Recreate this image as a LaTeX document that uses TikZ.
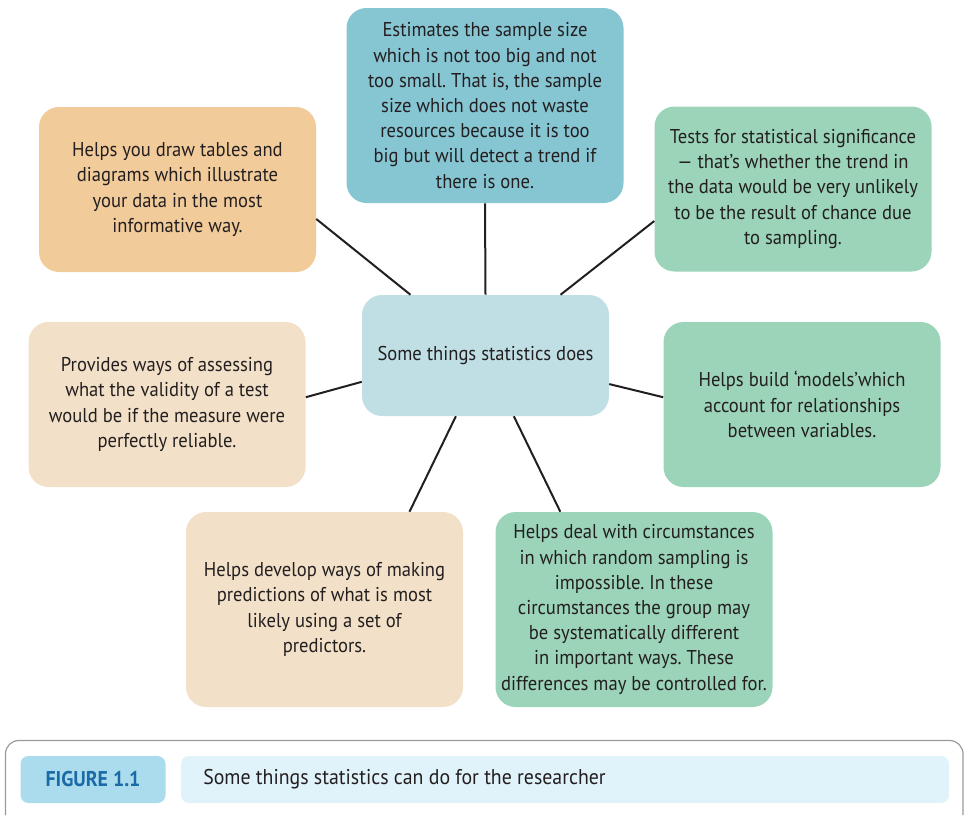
\documentclass[tikz,border=0pt]{standalone}
\usepackage{fontspec}
\setmainfont[FakeStretch=0.93]{PT Sans}
\usetikzlibrary{positioning}
\frenchspacing

\definecolor{ink}{HTML}{231F20}
\definecolor{teal}{HTML}{86C5D2}
\definecolor{peach}{HTML}{F2CB9B}
\definecolor{mint}{HTML}{9BD4B8}
\definecolor{pale}{HTML}{C0DFE4}
\definecolor{sand}{HTML}{F2E1C8}
\definecolor{labelbg}{HTML}{AADCEE}
\definecolor{labelink}{HTML}{1A6AA5}
\definecolor{captionbg}{HTML}{E1F3FA}
\definecolor{framegray}{HTML}{9A9A9A}

\begin{document}
\begin{tikzpicture}[x=0.75pt,y=-0.75pt]
		\tikzstyle {bubble} = [rounded corners=15pt, inner sep=0pt, align=center, text=ink,
		                       minimum width=207.75pt, font=\fontsize{15}{18.9}\selectfont]
		\tikzstyle {tall} = [bubble, minimum height=146.25pt]
		\tikzstyle {short} = [bubble, minimum height=123.75pt]
		\tikzstyle {spoke} = [line width=1.5pt, draw=ink]

		\useasboundingbox (0,0) rectangle (964,815);

		% centre
		\node[bubble, fill=pale, minimum width=185.25pt, minimum height=90.75pt] (hub) at (485.5,355.5)
			{Some things statistics does};

		% surrounding boxes
		\node[tall, fill=teal] (size) at (485,105.5)
			{Estimates the sample size\\ which is not too big and not\\ too small. That is, the sample\\
			 size which does not waste\\ resources because it is too\\ big but will detect a trend if\\ there is one.};
		\node[short, fill=peach] (tables) at (177.5,189.5)
			{Helps you draw tables and\\ diagrams which illustrate\\ your data in the most\\ informative way.};
		\node[short, fill=mint] (signif) at (793,189)
			{Tests for statistical significance\\ --- that's whether the trend in\\ the data would be very unlikely\\
			 to be the result of chance due\\ to sampling.};
		\node[short, fill=sand] (validity) at (167,404.5)
			{Provides ways of assessing\\ what the validity of a test\\ would be if the measure were\\ perfectly reliable.};
		\node[short, fill=mint] (models) at (802,404.5)
			{Helps build `models'which\\ account for relationships\\ between variables.};
		\node[tall, fill=sand] (predict) at (324.5,609.5)
			{Helps develop ways of making\\ predictions of what is most\\ likely using a set of\\ predictors.};
		\node[tall, fill=mint] (circum) at (634,609.5)
			{Helps deal with circumstances\\ in which random sampling is\\ impossible. In these\\
			 circumstances the group may\\ be systematically different\\ in important ways. These\\
			 differences may be controlled for.};

		% spokes
		\draw[spoke] (hub.141) -- (tables.-12);
		\draw[spoke] (hub.north) -- (size.south);
		\draw[spoke] (hub.39) -- (signif.-167);
		\draw[spoke] (hub.192) -- (validity.3.5);
		\draw[spoke] (hub.-13) -- (models.177);
		\draw[spoke] (hub.-116) -- (predict.49);
		\draw[spoke] (hub.-65) -- (circum.127);

		% caption strip
		\draw[framegray, line width=0.9pt, rounded corners=10pt] (5.5,815) -- (5.5,740.5) -- (963,740.5) -- (963,815);
		\node[fill=labelbg, rounded corners=6pt, minimum width=108.75pt, minimum height=35.25pt,
		      text=labelink, font=\fontsize{16}{19}\selectfont\bfseries] (figlabel) at (93,779.5) {FIGURE 1.1};
		\node[fill=captionbg, rounded corners=6pt, minimum width=576pt, minimum height=35.25pt] (capbox) at (565,779.5) {};
		\node[anchor=west, text=ink, inner sep=0pt, font=\fontsize{16}{19}\selectfont] (captext) at (203,779.5)
			{Some things statistics can do for the researcher};
\end{tikzpicture}
\end{document}
